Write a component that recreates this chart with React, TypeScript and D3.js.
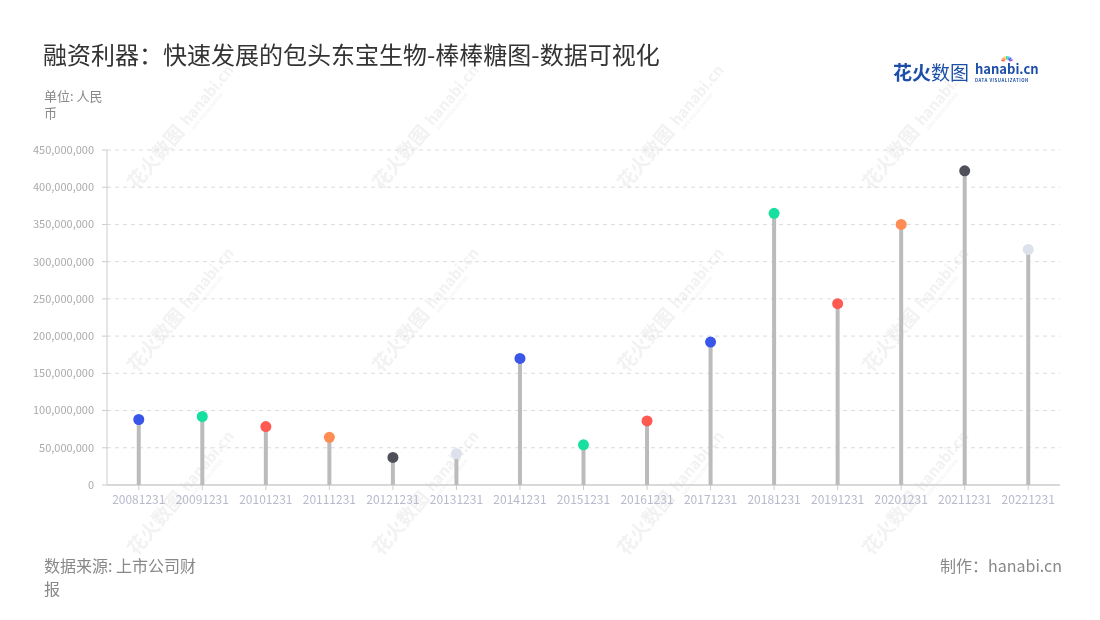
import React from "react";
import * as d3 from "d3";

const categories = ["20081231","20091231","20101231","20111231","20121231","20131231","20141231","20151231","20161231","20171231","20181231","20191231","20201231","20211231","20221231"];
const values = [88000000, 92000000, 78500000, 64000000, 37000000, 42000000, 170000000, 54000000, 86000000, 192000000, 365000000, 243500000, 350000000, 422000000, 316500000];
const dotColors = ["#3a56e8","#16e0a0","#ff5a52","#ff8c52","#50505a","#dde1ec","#3a56e8","#16e0a0","#ff5a52","#3a56e8","#16e0a0","#ff5a52","#ff8c52","#50505a","#dde1ec"];
const yTicks = [0, 50000000, 100000000, 150000000, 200000000, 250000000, 300000000, 350000000, 400000000, 450000000];

const FONT = "'Noto Sans CJK SC', 'Noto Sans', sans-serif";

export default function App() {
  const W = 1100, H = 620;
  const left = 107, right = 1060, top = 150, bottom = 485;
  const x = d3.scaleBand<string>().domain(categories).range([left, right]);
  const y = d3.scaleLinear().domain([0, 450000000]).range([bottom, top]);
  const fmt = d3.format(",");

  const wmCols = [182, 427, 672, 917];
  const wmRows = [127, 310, 493];

  return (
    <svg width={W} height={H} style={{ position: "absolute", left: 0, top: 0, background: "#fff" }} fontFamily={FONT}>
      {/* watermarks */}
      <g opacity={0.4}>
        {wmRows.map((ry) =>
          wmCols.map((cx) => (
            <g key={`${cx}-${ry}`} transform={`translate(${cx},${ry}) rotate(-50)`}>
              <text x={-78} y={6} fontSize={19} fontWeight={700} fill="#dedede">花火数图</text>
              <text x={4} y={4} fontSize={15} fontWeight={700} fill="#dedede">hanabi.cn</text>
              <text x={5} y={11} fontSize={4.5} fontWeight={700} fill="#e2e2e2">DATA VISUALIZATION</text>
            </g>
          ))
        )}
      </g>

      {/* title */}
      <text x={43} y={64} fontSize={24} fill="#333">融资利器：快速发展的包头东宝生物-棒棒糖图-数据可视化</text>
      <text x={44} y={101} fontSize={13} fill="#888">单位: 人民</text>
      <text x={44} y={118} fontSize={13} fill="#888">币</text>

      {/* logo */}
      <text x={893} y={80} fontSize={19} fontWeight={700} fill="#1d4fa8">花火<tspan fontWeight={400}>数图</tspan></text>
      <text x={975} y={74} fontSize={13} fontWeight={700} fill="#1d4fa8">hanabi.cn</text>
      <text x={975} y={81.5} fontSize={4.3} fontWeight={700} fill="#1d4fa8" letterSpacing={0.55}>DATA VISUALIZATION</text>
      <g>
        {[0, 1, 2, 3, 4, 5, 6].map((i) => {
          const a = (-160 + i * 23) * Math.PI / 180;
          const cols = ["#ff5a52", "#ff8c52", "#ffc640", "#16e0a0", "#3ab0f0", "#3a56e8", "#a050e0"];
          return <line key={i} x1={1007 + Math.cos(a) * 2.5} y1={62 + Math.sin(a) * 2.5} x2={1007 + Math.cos(a) * 6} y2={62 + Math.sin(a) * 6} stroke={cols[i]} strokeWidth={1.5} />;
        })}
      </g>

      {/* grid */}
      {yTicks.slice(1).map((t) => (
        <line key={t} x1={left} x2={right} y1={y(t)} y2={y(t)} stroke="#dcdcdc" strokeDasharray="4,4" />
      ))}

      {/* y axis */}
      <line x1={left} x2={left} y1={top} y2={bottom} stroke="#cccccc" strokeWidth={1} />
      {yTicks.map((t) => (
        <g key={t}>
          <line x1={left - 5} x2={left} y1={y(t)} y2={y(t)} stroke="#cccccc" />
          <text x={94} y={y(t)} dy="0.35em" textAnchor="end" fontSize={11} fill="#aaaaaa">{fmt(t)}</text>
        </g>
      ))}

      {/* x axis */}
      <line x1={left} x2={right} y1={bottom} y2={bottom} stroke="#cccccc" strokeWidth={1.5} />
      {categories.map((c) => {
        const cx = (x(c) as number) + x.bandwidth() / 2;
        return (
          <g key={c}>
            <line x1={cx} x2={cx} y1={bottom} y2={bottom + 5} stroke="#cccccc" />
            <text x={cx} y={504} textAnchor="middle" fontSize={12} fill="#b6bacb">{c}</text>
          </g>
        );
      })}

      {/* lollipops */}
      {categories.map((c, i) => {
        const cx = (x(c) as number) + x.bandwidth() / 2;
        return (
          <g key={c}>
            <line x1={cx} x2={cx} y1={bottom} y2={y(values[i])} stroke="#bbbbbb" strokeWidth={4} />
            <circle cx={cx} cy={y(values[i])} r={5.5} fill={dotColors[i]} />
          </g>
        );
      })}

      {/* footer */}
      <text x={44} y={572} fontSize={16} fill="#888">数据来源: 上市公司财</text>
      <text x={44} y={595} fontSize={16} fill="#888">报</text>
      <text x={1062} y={572} textAnchor="end" fontSize={16} fill="#888">制作：hanabi.cn</text>
    </svg>
  );
}
